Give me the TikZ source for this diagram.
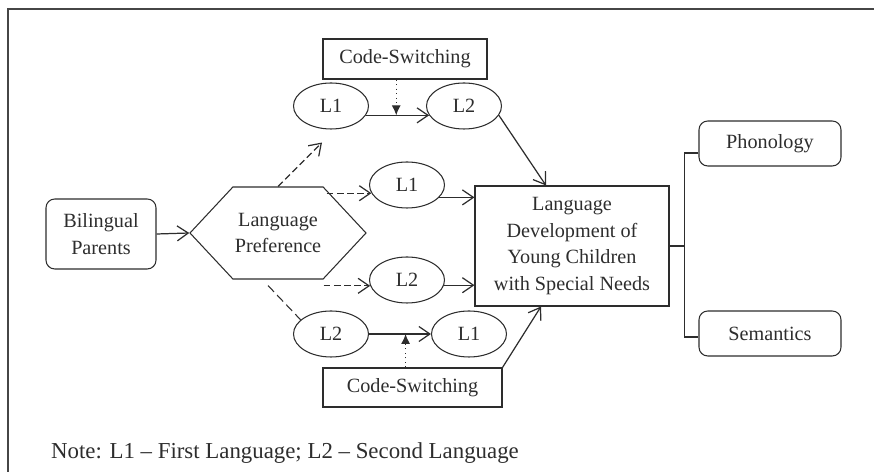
\documentclass[tikz,border=0pt]{standalone}
\usepackage{fontspec}
\setmainfont{Liberation Serif}
\usepackage{tikz}
\usetikzlibrary{
    arrows.meta,
    calc,
    positioning,
    shapes.geometric,
    shapes.symbols
}
\definecolor{ink}{RGB}{45,45,45}
\definecolor{frameline}{RGB}{70,70,70}

\begin{document}
\begin{tikzpicture}[
    color=ink,
    font=\fontsize{11.5}{15.3}\selectfont,
    box/.style={draw=ink, line width=0.6pt, align=center, inner sep=0pt},
    roundbox/.style={box, rounded corners=5pt},
    oval/.style={draw=ink, ellipse, line width=0.6pt, minimum width=1.5cm, minimum height=0.92cm, inner sep=0pt},
    hexa/.style={draw=ink, signal, signal to=east and west, signal pointer angle=94, line width=0.6pt, align=center, minimum width=3.52cm, minimum height=1.84cm, inner sep=0pt},
    arr/.style={draw=ink, line width=0.7pt, -{Straight Barb[length=2.2mm, width=3mm]}},
    dasharr/.style={arr, dash pattern=on 3.8pt off 2pt},
    dashline/.style={draw=ink, line width=0.6pt, dash pattern=on 5pt off 2.5pt},
    dotarr/.style={draw=ink, line width=0.6pt, dotted, -{Latex[length=2mm, width=1.8mm]}},
    link/.style={draw=ink, line width=0.6pt}
]
    \useasboundingbox (0,0) rectangle (17.48,9.44);

    % Frame
    \draw[frameline, line width=1.1pt] (0.16,-1) rectangle (18,9.26);

    % Source and preference
    \node[roundbox, minimum width=2.2cm, minimum height=1.4cm] (bp) at (2.02,4.76) {Bilingual\\Parents};
    \node[hexa] (lp) at (5.56,4.78) {Language\\Preference};

    % Upper branch: L1 to L2
    \node[box, minimum width=3.28cm, minimum height=0.8cm] (cs1) at (8.10,8.26) {Code-Switching};
    \node[oval] (l1a) at (6.62,7.32) {L1};
    \node[oval] (l2a) at (9.28,7.32) {L2};

    % Direct branches
    \node[oval] (l1b) at (8.14,5.74) {L1};
    \node[oval] (l2b) at (8.14,3.84) {L2};

    % Lower branch: L2 to L1
    \node[oval] (l2c) at (6.62,2.76) {L2};
    \node[oval] (l1c) at (9.38,2.76) {L1};
    \node[box, minimum width=3.58cm, minimum height=0.78cm] (cs2) at (8.25,1.69) {Code-Switching};

    % Outcome
    \node[box, minimum width=3.88cm, minimum height=2.4cm] (dev) at (11.44,4.52) {Language\\Development of\\Young Children\\with Special Needs};
    \node[roundbox, minimum width=2.84cm, minimum height=0.9cm] (phon) at (15.40,6.57) {Phonology};
    \node[roundbox, minimum width=2.84cm, minimum height=0.9cm] (sem) at (15.40,2.77) {Semantics};

    % Note
    \node[anchor=base west, font=\fontsize{13}{15}\selectfont] (note) at (0.9,0.26) {Note: L1 -- First Language; L2 -- Second Language};

    % Connectors
    \draw[arr] (bp.east) -- (lp.west);
    \draw[dasharr] (lp.north) -- ($(l1a.south)+(-0.18,-0.26)$);
    \draw[dasharr] ($(l1b.193 -| lp.east)+(-0.8,0)$) -- (l1b.193);
    \draw[dasharr] ($(l2b.189 -| lp.east)+(-0.86,0)$) -- (l2b.189);
    \draw[dashline] ($(lp.south)+(-0.2,-0.12)$) -- (l2c.155);

    \draw[arr] (l1a.-15) -- (l2a.195);
    \coordinate (m1) at ($(l1a.-15)!0.48!(l2a.195)$);
    \draw[dotarr] (cs1.south -| m1) -- (m1);

    \draw[arr] (l2c.east) -- (l1c.west);
    \coordinate (m2) at ($(l2c.east)!0.59!(l1c.west)$);
    \draw[dotarr] (cs2.north -| m2) -- (m2);

    \draw[arr] (l2a.-15) -- ($(dev.north)+(-0.52,0)$);
    \draw[arr] (l1b.-21) -- (l1b.-21 -| dev.west);
    \draw[arr] (l2b.-8) -- (l2b.-8 -| dev.west);
    \draw[arr] (cs2.north east) -- ($(dev.south)+(-0.62,0)$);

    \coordinate (jn) at ($(dev.east)+(0.30,0)$);
    \draw[link] (dev.east) -- (jn);
    \draw[link] ($(phon.west)+(0,-0.19)$) -| (jn) |- ($(sem.west)+(0,-0.07)$);
\end{tikzpicture}
\end{document}
